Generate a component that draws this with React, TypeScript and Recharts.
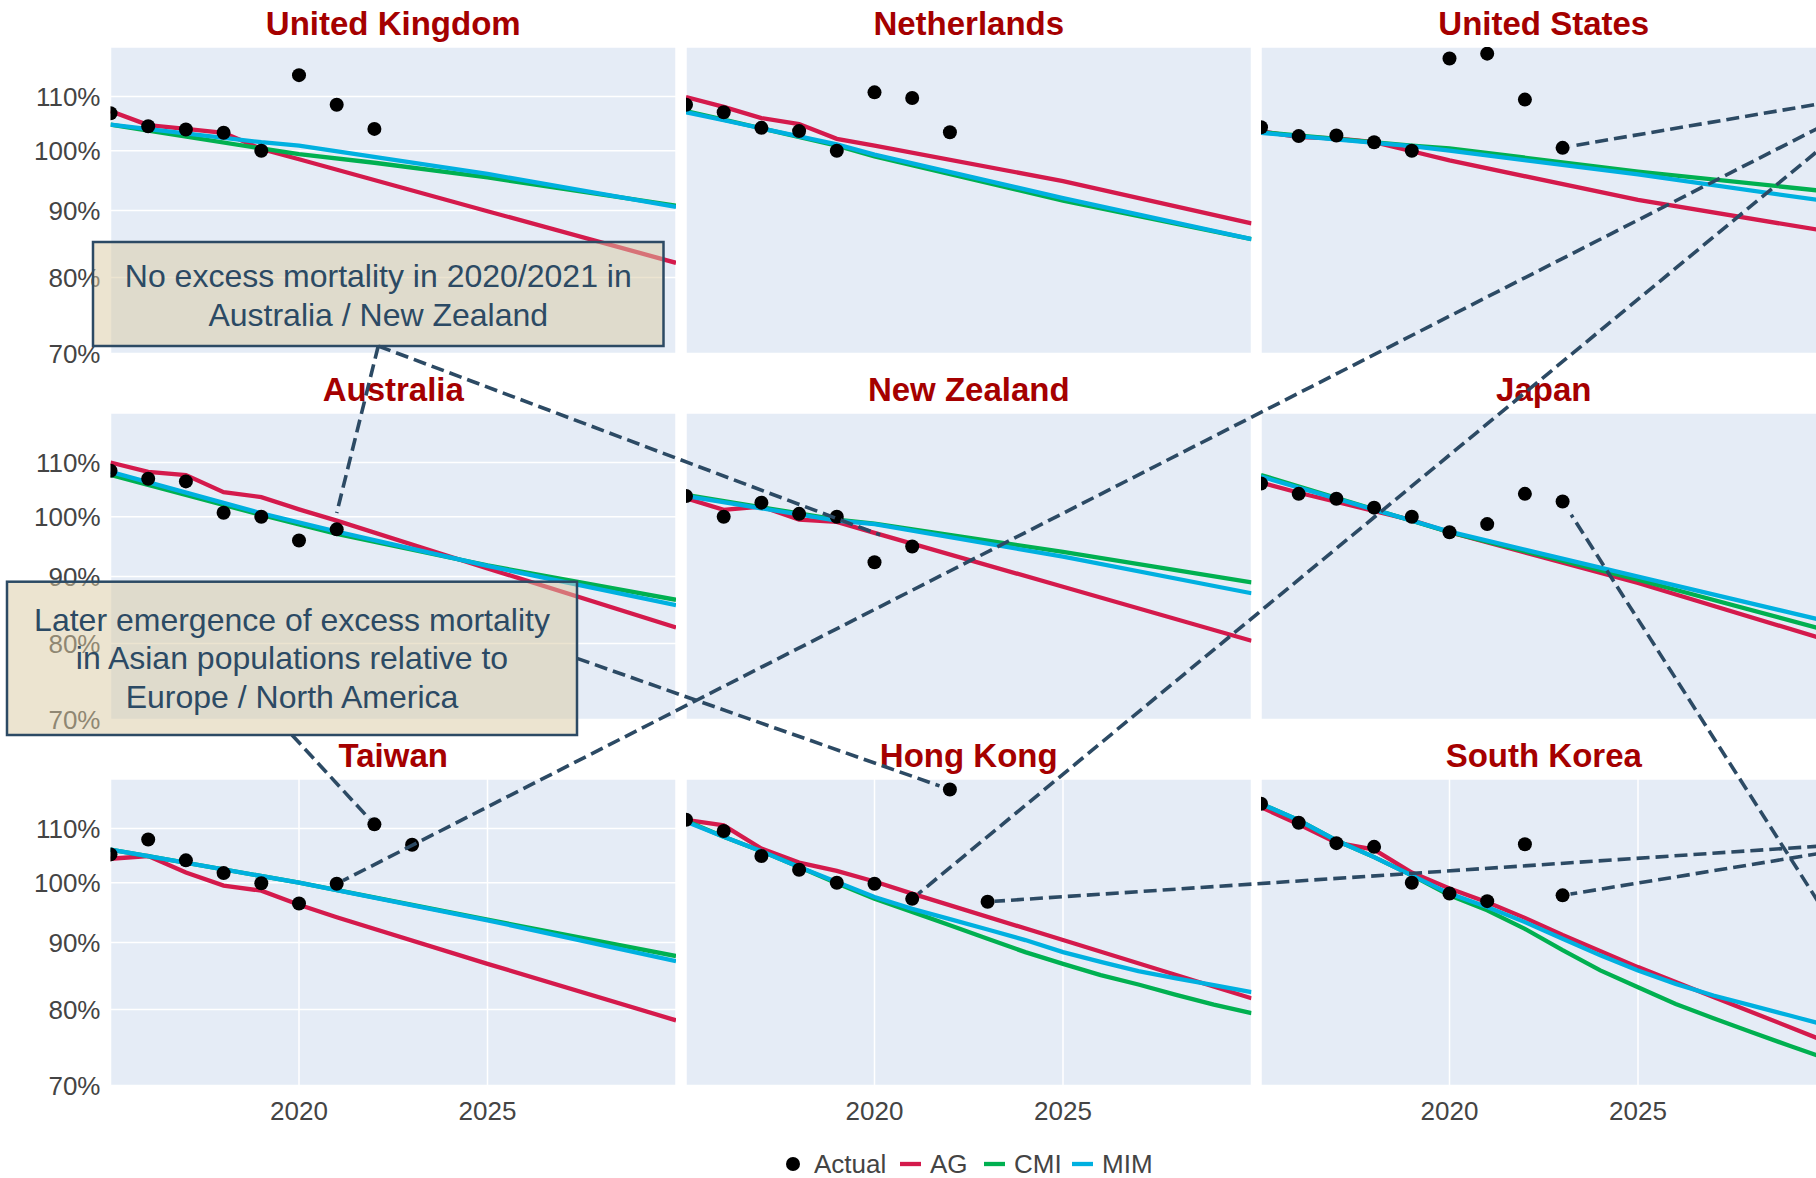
import React from "react";
import { ComposedChart, Line, Scatter, XAxis, YAxis, CartesianGrid } from "recharts";

type Pt = [number, number];

// ---------- data ----------
const FIRST_YEAR = 2015;
const X_DOMAIN: [number, number] = [2015, 2030];
const X_TICKS = [2020, 2025];
const Y_DOMAIN: [number, number] = [0.7, 1.2];
const Y_TICKS = [0.7, 0.8, 0.9, 1.0, 1.1];

const SERIES_NAMES = ["Actual", "AG", "CMI", "MIM"];
const SERIES_COLORS = ["#000000", "#d41a4c", "#00b050", "#00b0e0"];

const ukActual = [1.068, 1.044, 1.038, 1.032, 1.0, 1.142, 1.084, 1.039];
const ukAG: Pt[] = [[2015, 1.072], [2016, 1.046], [2017, 1.039], [2018, 1.032], [2019, 1.003], [2020, 0.985], [2025, 0.899], [2030, 0.821]];
const ukCMI: Pt[] = [[2015, 1.047], [2016, 1.036], [2019, 1.004], [2020, 0.994], [2022, 0.979], [2025, 0.954], [2030, 0.908]];
const ukMIM: Pt[] = [[2015, 1.047], [2019, 1.015], [2020, 1.009], [2025, 0.96], [2030, 0.906]];

const nlActual = [1.084, 1.07, 1.041, 1.035, 1.0, 1.108, 1.097, 1.033];
const nlAG: Pt[] = [[2015, 1.099], [2016, 1.08], [2017, 1.059], [2018, 1.048], [2019, 1.021], [2020, 1.009], [2025, 0.948], [2030, 0.88]];
const nlCMI: Pt[] = [[2015, 1.072], [2016, 1.056], [2019, 1.009], [2020, 0.99], [2025, 0.916], [2030, 0.856]];
const nlMIM: Pt[] = [[2015, 1.07], [2016, 1.055], [2019, 1.011], [2020, 0.993], [2025, 0.92], [2030, 0.856]];

const usActual = [1.042, 1.026, 1.027, 1.015, 1.0, 1.176, 1.186, 1.094, 1.005];
const usAG: Pt[] = [[2015, 1.035], [2016, 1.024], [2017, 1.022], [2018, 1.015], [2019, 0.999], [2020, 0.983], [2025, 0.917], [2030, 0.868]];
const usCMI: Pt[] = [[2015, 1.033], [2019, 1.009], [2020, 1.004], [2025, 0.964], [2030, 0.931]];
const usMIM: Pt[] = [[2015, 1.032], [2019, 1.008], [2020, 1.0], [2025, 0.959], [2030, 0.915]];

const auActual = [1.084, 1.069, 1.064, 1.007, 1.0, 0.959, 0.978];
const auAG: Pt[] = [[2015, 1.1], [2016, 1.082], [2017, 1.076], [2018, 1.044], [2019, 1.035], [2020, 1.013], [2021, 0.993], [2025, 0.913], [2030, 0.823]];
const auCMI: Pt[] = [[2015, 1.076], [2019, 1.003], [2021, 0.97], [2025, 0.918], [2030, 0.864]];
const auMIM: Pt[] = [[2015, 1.082], [2019, 1.006], [2021, 0.974], [2025, 0.917], [2030, 0.856]];

const nzActual = [1.037, 1.0, 1.025, 1.005, 1.0, 0.923, 0.949];
const nzAG: Pt[] = [[2015, 1.033], [2016, 1.012], [2017, 1.018], [2018, 0.995], [2019, 0.991], [2020, 0.972], [2025, 0.884], [2030, 0.804]];
const nzCMI: Pt[] = [[2015, 1.039], [2019, 0.995], [2020, 0.988], [2025, 0.94], [2030, 0.891]];
const nzMIM: Pt[] = [[2015, 1.037], [2019, 0.993], [2020, 0.987], [2025, 0.932], [2030, 0.874]];

const jpActual = [1.06, 1.041, 1.032, 1.016, 1.0, 0.973, 0.987, 1.041, 1.027];
const jpAG: Pt[] = [[2015, 1.062], [2016, 1.043], [2019, 0.994], [2020, 0.973], [2025, 0.89], [2030, 0.805]];
const jpCMI: Pt[] = [[2015, 1.076], [2020, 0.973], [2025, 0.895], [2030, 0.819]];
const jpMIM: Pt[] = [[2015, 1.073], [2020, 0.974], [2025, 0.9], [2030, 0.832]];

const twActual = [1.051, 1.079, 1.04, 1.017, 0.999, 0.964, 0.998, 1.108, 1.069];
const twAG: Pt[] = [[2015, 1.043], [2016, 1.048], [2017, 1.018], [2018, 0.995], [2019, 0.986], [2020, 0.962], [2021, 0.941], [2025, 0.867], [2030, 0.785]];
const twCMI: Pt[] = [[2015, 1.06], [2016, 1.048], [2020, 1.0], [2025, 0.937], [2030, 0.879]];
const twMIM: Pt[] = [[2015, 1.06], [2016, 1.048], [2020, 1.0], [2025, 0.936], [2030, 0.871]];

const hkActual = [1.117, 1.095, 1.048, 1.023, 1.0, 0.998, 0.972, 1.178, 0.967];
const hkAG: Pt[] = [[2015, 1.117], [2016, 1.106], [2017, 1.062], [2018, 1.036], [2019, 1.021], [2020, 1.002], [2021, 0.981], [2025, 0.904], [2030, 0.816]];
const hkCMI: Pt[] = [[2015, 1.115], [2016, 1.084], [2017, 1.057], [2018, 1.028], [2019, 0.999], [2020, 0.972], [2021, 0.95], [2022, 0.928], [2023, 0.906], [2024, 0.885], [2025, 0.867], [2026, 0.85], [2027, 0.836], [2028, 0.821], [2029, 0.807], [2030, 0.795]];
const hkMIM: Pt[] = [[2015, 1.113], [2016, 1.084], [2017, 1.057], [2018, 1.028], [2019, 1.001], [2020, 0.975], [2021, 0.955], [2022, 0.938], [2023, 0.921], [2024, 0.904], [2025, 0.885], [2026, 0.87], [2027, 0.856], [2028, 0.845], [2029, 0.835], [2030, 0.825]];

const krActual = [1.149, 1.111, 1.072, 1.065, 1.0, 0.981, 0.968, 1.07, 0.978];
const krAG: Pt[] = [[2015, 1.142], [2016, 1.108], [2017, 1.073], [2018, 1.06], [2019, 1.018], [2020, 0.99], [2021, 0.966], [2022, 0.94], [2023, 0.912], [2025, 0.862], [2027, 0.818], [2030, 0.756]];
const krCMI: Pt[] = [[2015, 1.149], [2016, 1.116], [2017, 1.077], [2018, 1.046], [2019, 1.013], [2020, 0.978], [2021, 0.9525], [2022, 0.922], [2023, 0.888], [2024, 0.857], [2025, 0.832], [2026, 0.808], [2027, 0.788], [2028, 0.769], [2029, 0.751], [2030, 0.734]];
const krMIM: Pt[] = [[2015, 1.149], [2016, 1.116], [2017, 1.077], [2018, 1.046], [2019, 1.013], [2020, 0.981], [2021, 0.958], [2022, 0.933], [2023, 0.906], [2024, 0.88], [2025, 0.857], [2026, 0.837], [2027, 0.82], [2028, 0.806], [2029, 0.792], [2030, 0.778]];

const PANELS = [
  { title: "United Kingdom", actual: ukActual, ag: ukAG, cmi: ukCMI, mim: ukMIM },
  { title: "Netherlands", actual: nlActual, ag: nlAG, cmi: nlCMI, mim: nlMIM },
  { title: "United States", actual: usActual, ag: usAG, cmi: usCMI, mim: usMIM },
  { title: "Australia", actual: auActual, ag: auAG, cmi: auCMI, mim: auMIM },
  { title: "New Zealand", actual: nzActual, ag: nzAG, cmi: nzCMI, mim: nzMIM },
  { title: "Japan", actual: jpActual, ag: jpAG, cmi: jpCMI, mim: jpMIM },
  { title: "Taiwan", actual: twActual, ag: twAG, cmi: twCMI, mim: twMIM },
  { title: "Hong Kong", actual: hkActual, ag: hkAG, cmi: hkCMI, mim: hkMIM },
  { title: "South Korea", actual: krActual, ag: krAG, cmi: krCMI, mim: krMIM },
];

const NOTE_1 = ["No excess mortality in 2020/2021 in", "Australia / New Zealand"];
const NOTE_2 = ["Later emergence of excess mortality", "in Asian populations relative to", "Europe / North America"];

// ---------- layout ----------
const FIG_W = 1816;
const FIG_H = 1178;
const PLOT_LEFT = [110.5, 686, 1261];
const PLOT_TOP = [46.7, 412.7, 779];
const PLOT_W = 565.5;
const PLOT_H = 306.5;
const Y_AXIS_W = 110.5;
const X_AXIS_H = 45;
const FONT = "'Liberation Sans', Arial, Helvetica, sans-serif";
const TEXT_GRAY = "#444444";
const TITLE_RED = "#a50000";
const NOTE_COLOR = "#2c4a64";
const PANEL_BG = "#e5ecf6";

const BOX1 = { x: 93, y: 242, w: 570.5, h: 104 };
const BOX2 = { x: 7, y: 581.7, w: 570, h: 153.3 };
const BOX1_BOTTOM: [number, number] = [BOX1.x + BOX1.w / 2, BOX1.y + BOX1.h];
const BOX2_BOTTOM: [number, number] = [BOX2.x + BOX2.w / 2, BOX2.y + BOX2.h];
const BOX2_RIGHT: [number, number] = [BOX2.x + BOX2.w, BOX2.y + BOX2.h / 2];
const ANCHOR_NE: [number, number] = [1889, 92];
const ANCHOR_E: [number, number] = [1896, 841];
const ANCHOR_SE: [number, number] = [1900, 1030];

function px(col: number, year: number) {
  return PLOT_LEFT[col] + ((year - X_DOMAIN[0]) / (X_DOMAIN[1] - X_DOMAIN[0])) * PLOT_W;
}
function py(row: number, v: number) {
  return PLOT_TOP[row] + (Math.log(Y_DOMAIN[1] / v) / Math.log(Y_DOMAIN[1] / Y_DOMAIN[0])) * PLOT_H;
}

// arrows: from anchor to a target (panel index, year, value), with standoff in px
const ARROWS = [
  { from: BOX1_BOTTOM, panel: 3, year: 2021, value: 1.006, standoff: 0 },
  { from: BOX1_BOTTOM, panel: 4, year: 2020.15, value: 0.968, standoff: 0 },
  { from: BOX2_BOTTOM, panel: 6, year: 2022, value: twActual[7], standoff: 7 },
  { from: BOX2_RIGHT, panel: 7, year: 2022, value: hkActual[7], standoff: 11 },
  { from: ANCHOR_NE, panel: 2, year: 2023, value: usActual[8], standoff: 8 },
  { from: ANCHOR_NE, panel: 6, year: 2021, value: twActual[6], standoff: 7 },
  { from: ANCHOR_NE, panel: 7, year: 2021, value: hkActual[6], standoff: 8 },
  { from: ANCHOR_E, panel: 7, year: 2023, value: hkActual[8], standoff: 7 },
  { from: ANCHOR_E, panel: 8, year: 2023, value: krActual[8], standoff: 8 },
  { from: ANCHOR_SE, panel: 5, year: 2023, value: jpActual[8], standoff: 16 },
];

const toXY = (pts: Pt[]) => pts.map(([x, y]) => ({ x, y }));
const actualXY = (vals: number[]) => vals.map((y, i) => ({ x: FIRST_YEAR + i, y }));
const pct = (v: number) => `${Math.round(v * 100)}%`;

const Dot = (props: any) => <circle cx={props.cx} cy={props.cy} r={7} fill="#000" />;

function Panel({ idx }: { idx: number }) {
  const p = PANELS[idx];
  const row = Math.floor(idx / 3);
  const col = idx % 3;
  const yw = col === 0 ? Y_AXIS_W : 0;
  const showX = row === 2;
  const tickStyle = { fill: TEXT_GRAY, fontSize: 26, fontFamily: FONT };
  const models = [p.ag, p.cmi, p.mim];
  return (
    <div style={{ position: "absolute", left: PLOT_LEFT[col] - yw, top: PLOT_TOP[row] }}>
      <ComposedChart width={yw + PLOT_W} height={PLOT_H + X_AXIS_H} margin={{ top: 0, right: 0, bottom: 0, left: 0 }}>
        <CartesianGrid fill={PANEL_BG} fillOpacity={1} stroke="#ffffff" strokeWidth={1.5} />
        <XAxis
          type="number"
          dataKey="x"
          domain={X_DOMAIN}
          ticks={X_TICKS}
          allowDataOverflow
          height={X_AXIS_H}
          axisLine={false}
          tickLine={false}
          tickMargin={10}
          interval={0}
          tick={showX ? tickStyle : false}
        />
        <YAxis
          type="number"
          dataKey="y"
          scale="log"
          domain={Y_DOMAIN}
          ticks={Y_TICKS}
          allowDataOverflow
          width={yw}
          axisLine={false}
          tickLine={false}
          tickMargin={4}
          interval={0}
          tickFormatter={pct}
          tick={col === 0 ? tickStyle : false}
        />
        {models.map((m, k) => (
          <Line
            key={SERIES_NAMES[k + 1]}
            name={SERIES_NAMES[k + 1]}
            data={toXY(m)}
            dataKey="y"
            type="linear"
            stroke={SERIES_COLORS[k + 1]}
            strokeWidth={4.3}
            dot={false}
            activeDot={false}
            isAnimationActive={false}
          />
        ))}
        <Scatter
          name={SERIES_NAMES[0]}
          data={actualXY(p.actual)}
          dataKey="y"
          fill="#000"
          shape={Dot}
          isAnimationActive={false}
        />
      </ComposedChart>
    </div>
  );
}

function Overlay() {
  const lines = ARROWS.map((a, i) => {
    const row = Math.floor(a.panel / 3);
    const col = a.panel % 3;
    const tx = px(col, a.year);
    const ty = py(row, a.value);
    const dx = tx - a.from[0];
    const dy = ty - a.from[1];
    const L = Math.hypot(dx, dy);
    const ex = tx - (a.standoff * dx) / L;
    const ey = ty - (a.standoff * dy) / L;
    return (
      <line key={i} x1={a.from[0]} y1={a.from[1]} x2={ex} y2={ey} stroke={NOTE_COLOR} strokeWidth={3.6} strokeDasharray="13 6" />
    );
  });
  const legendX = [793, 900, 984, 1072];
  const legendTextX = [814, 930, 1014, 1102];
  const legendY = 1164;
  return (
    <svg width={FIG_W} height={FIG_H} style={{ position: "absolute", left: 0, top: 0, pointerEvents: "none" }}>
      {PANELS.map((p, i) => {
        const row = Math.floor(i / 3);
        const col = i % 3;
        return (
          <text key={p.title} x={PLOT_LEFT[col] + PLOT_W / 2} y={PLOT_TOP[row] - 12} textAnchor="middle" fontFamily={FONT} fontWeight="bold" fontSize={33} fill={TITLE_RED}>
            {p.title}
          </text>
        );
      })}
      {lines}
      <rect x={BOX1.x} y={BOX1.y} width={BOX1.w} height={BOX1.h} fill="rgba(217,201,161,0.5)" stroke={NOTE_COLOR} strokeWidth={2.5} />
      {NOTE_1.map((t, i) => (
        <text key={t} x={BOX1.x + BOX1.w / 2} y={BOX1.y + 44.5 + i * 39} textAnchor="middle" fontFamily={FONT} fontSize={32} fill={NOTE_COLOR}>
          {t}
        </text>
      ))}
      <rect x={BOX2.x} y={BOX2.y} width={BOX2.w} height={BOX2.h} fill="rgba(217,201,161,0.5)" stroke={NOTE_COLOR} strokeWidth={2.5} />
      {NOTE_2.map((t, i) => (
        <text key={t} x={BOX2.x + BOX2.w / 2} y={BOX2.y + 49 + i * 38.5} textAnchor="middle" fontFamily={FONT} fontSize={32} fill={NOTE_COLOR}>
          {t}
        </text>
      ))}
      {SERIES_NAMES.map((n, i) => (
        <g key={n}>
          {i === 0 ? (
            <circle cx={legendX[i]} cy={legendY} r={7} fill={SERIES_COLORS[i]} />
          ) : (
            <line x1={legendX[i]} y1={legendY} x2={legendX[i] + 21} y2={legendY} stroke={SERIES_COLORS[i]} strokeWidth={4.3} />
          )}
          <text x={legendTextX[i]} y={legendY + 9} fontFamily={FONT} fontSize={26} fill={TEXT_GRAY}>
            {n}
          </text>
        </g>
      ))}
    </svg>
  );
}

export default function App() {
  return (
    <div style={{ position: "absolute", left: 0, top: 0, width: FIG_W, height: FIG_H, overflow: "hidden", background: "#fff" }}>
      {PANELS.map((_, i) => (
        <Panel key={i} idx={i} />
      ))}
      <Overlay />
    </div>
  );
}
